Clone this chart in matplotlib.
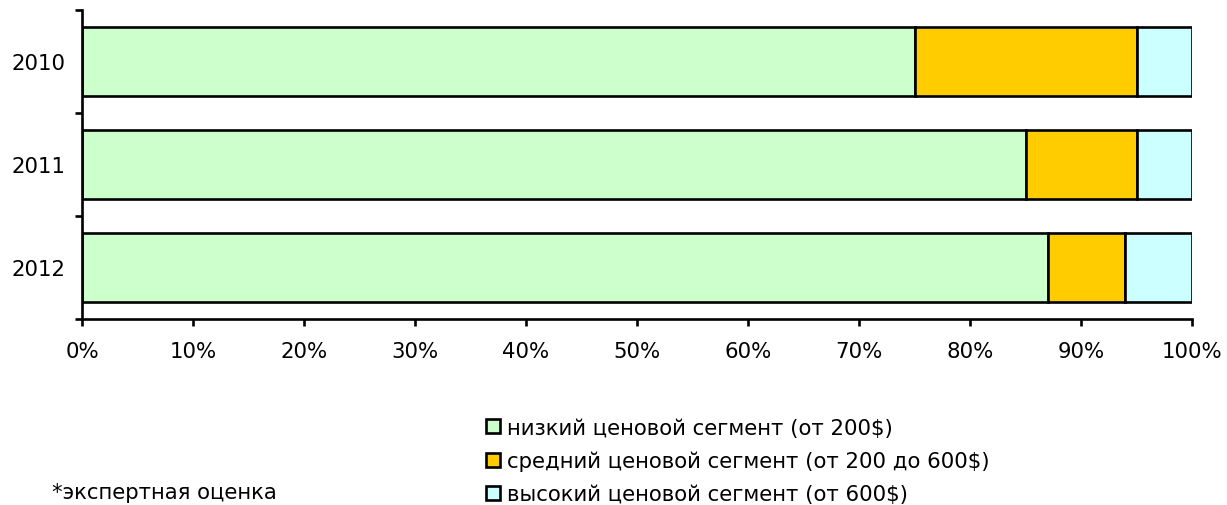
import matplotlib
matplotlib.use("Agg")
import matplotlib.pyplot as plt
import numpy as np
from matplotlib.patches import Patch
from matplotlib.ticker import FixedLocator

years = ["2010", "2011", "2012"]
low = [75, 85, 87]
mid = [20, 10, 7]
high = [5, 5, 6]
series_names = ["низкий ценовой сегмент (от 200$)",
                "средний ценовой сегмент (от 200 до 600$)",
                "высокий ценовой сегмент (от 600$)"]
colors = ["#CCFFCC", "#FFCC00", "#CCFFFF"]
xtick_vals = [0, 10, 20, 30, 40, 50, 60, 70, 80, 90, 100]
note = "*экспертная оценка"

FS = 15.3
LW = 1.9
plt.rcParams['font.family'] = ['DejaVu Sans']
fig = plt.figure(figsize=(12.27, 5.06), dpi=100)
ax = fig.add_axes([82/1227, 1-320/506, (1192-82)/1227, (320-11)/506])

y = np.arange(len(years))
left = np.zeros(len(years))
for vals, c in zip([low, mid, high], colors):
    ax.barh(y, vals, left=left, height=0.67, color=c, edgecolor="black", linewidth=LW)
    left += np.array(vals)

ax.set_xlim(0, 100)
ax.set_ylim(len(years) - 0.5, -0.5)
ax.set_xticks(xtick_vals)
ax.set_xticklabels([f"{v}%" for v in xtick_vals], fontsize=FS)
ax.yaxis.set_major_locator(FixedLocator(np.arange(-0.5, len(years), 1.0)))
ax.set_yticklabels([])
ax.yaxis.set_minor_locator(FixedLocator(y))
ax.set_yticklabels(years, minor=True, fontsize=FS)
ax.tick_params(axis='y', which='minor', length=0, pad=12)
ax.tick_params(axis='y', which='major', length=5, width=LW, direction='out')
ax.tick_params(axis='x', which='major', length=5, width=LW, direction='out', pad=11)
for s in ["top", "right"]:
    ax.spines[s].set_visible(False)
for s in ["left", "bottom"]:
    ax.spines[s].set_linewidth(LW)

handles = [Patch(facecolor=c, edgecolor="black", linewidth=LW) for c in colors]
fig.legend(handles, series_names, loc="center left", bbox_to_anchor=(486/1227, 1-462/506),
           frameon=False, fontsize=FS, handlelength=0.65, handleheight=0.65,
           handletextpad=0.35, labelspacing=0.62, borderaxespad=0, borderpad=0)
fig.text(52/1227, 1-493/506, note, fontsize=FS, va="center", ha="left")

fig.savefig("out.png", dpi=100)
